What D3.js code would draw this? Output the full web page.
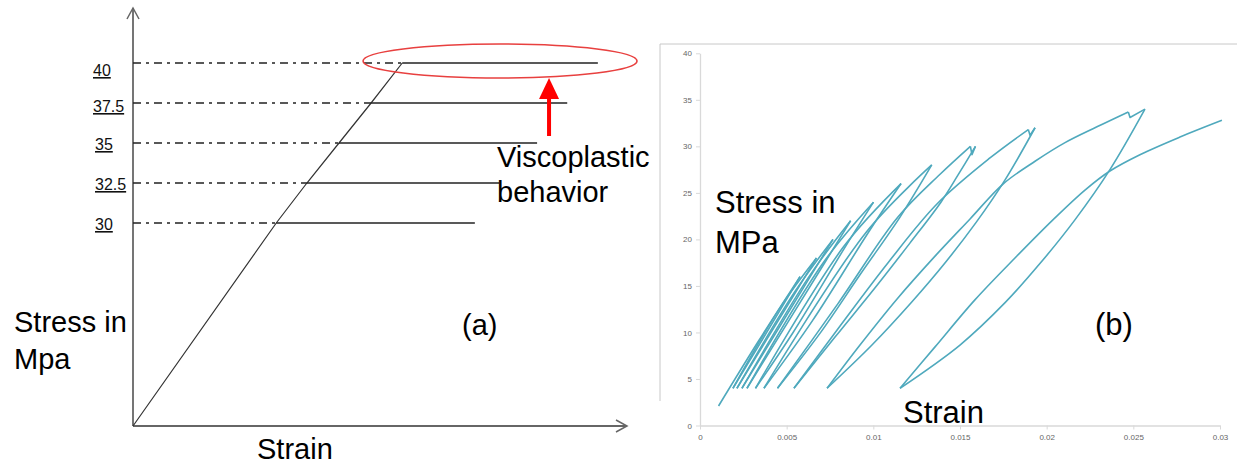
<!DOCTYPE html>
<html><head><meta charset="utf-8">
<script src="https://cdn.jsdelivr.net/npm/d3@7"></script>
<style>
body{margin:0;background:#fff;}
svg{display:block;font-family:"Liberation Sans",Arial,sans-serif;}
</style>
</head><body>
<svg id="c" width="1237" height="465"></svg>
<script>
// ---------- Panel (a): schematic creep test ----------
const stressLevels = [30, 32.5, 35, 37.5, 40];
const levelLabels = ["30", "32.5", "35", "37.5", "40"];
const onsetStrain = [0.290, 0.352, 0.417, 0.482, 0.545];   // schematic strain where plateau starts
const endStrain   = [0.692, 0.741, 0.818, 0.879, 0.941];   // schematic strain where plateau ends

// ---------- Panel (b): cyclic loading test ----------
const xTicksB = [0, 0.005, 0.01, 0.015, 0.02, 0.025, 0.03];
const xTickLabelsB = ["0", "0.005", "0.01", "0.015", "0.02", "0.025", "0.03"];
const yTicksB = [0, 5, 10, 15, 20, 25, 30, 35, 40];

// branches of the single recorded curve, in order: [strain, stress MPa]
const load1   = [[0.00107,2.1],[0.00335,9.0],[0.00577,16]];
const unload1 = [[0.00577,16],[0.00475,12.8],[0.0019,4]];
const load2   = [[0.0019,4],[0.00467,12.8],[0.00672,18]];
const unload2 = [[0.00672,18],[0.00554,14.4],[0.00213,4]];
const load3   = [[0.00213,4],[0.00548,14.4],[0.00767,20]];
const unload3 = [[0.00767,20],[0.00636,16],[0.00242,4]];
const load4   = [[0.00242,4],[0.00629,16],[0.00869,22]];
const unload4 = [[0.00869,22],[0.00723,17.6],[0.00271,4]];
const load5   = [[0.00271,4],[0.00715,17.6],[0.01001,24]];
const unload5 = [[0.01001,24],[0.00838,19.2],[0.00537,10],[0.0032,4]];
const load6   = [[0.0032,4],[0.00828,19.2],[0.0116,26]];
const unload6 = [[0.0116,26],[0.00973,20.8],[0.0065,11.3],[0.00369,4]];
const load7   = [[0.00369,4],[0.0096,20.8],[0.01337,28]];
const unload7 = [[0.01337,28],[0.01154,22.4],[0.00923,16.2],[0.00692,9.9],[0.00447,4]];
const load8   = [[0.00447,4],[0.00796,13.1],[0.01142,22.4],[0.01385,27.0],[0.0156,30]];
const hold8   = [[0.0156,30],[0.01569,29.1],[0.01589,30]];
const unload8 = [[0.01589,30],[0.01488,26.9],[0.0139,24.0],[0.01211,19.6],[0.0101,14.8],[0.00779,9.5],[0.00542,4]];
const load9   = [[0.00542,4],[0.00808,10.7],[0.01085,17.5],[0.01367,23.8],[0.01673,28.75],[0.01894,31.8]];
const hold9   = [[0.01894,31.8],[0.01904,31.2],[0.01933,32]];
const unload9 = [[0.01933,32],[0.0176,26.4],[0.01592,21.8],[0.01419,17.6],[0.01223,13.3],[0.00992,8.65],[0.00733,4]];
const load10  = [[0.00733,4],[0.00923,8.65],[0.01137,13.6],[0.01356,18.2],[0.01558,22.2],[0.01748,25.95],[0.01933,28.4],[0.02106,30.4],[0.0229,32.1],[0.02471,33.7]];
const hold10  = [[0.02471,33.7],[0.02481,33.1],[0.02567,34]];
const unload10= [[0.02567,34],[0.02365,27.5],[0.02163,22.1],[0.01961,17.4],[0.0176,13.2],[0.015,8.65],[0.01154,4]];
const load11  = [[0.01154,4],[0.01356,8.45],[0.01586,13.5],[0.01817,18.0],[0.02036,22.1],[0.02221,25.3],[0.02365,27.35],[0.02538,29.1],[0.02769,31.0],[0.03011,32.8]];

const smoothBranches = [load1,unload1,load2,unload2,load3,unload3,load4,unload4,load5,unload5,
  load6,unload6,load7,unload7,load8,unload8,load9,unload9,load10,unload10,load11];
const holdBranches = [hold8, hold9, hold10];

const svg = d3.select("#c");

// ================= Panel (a) =================
const xA = d3.scaleLinear().domain([0, 1]).range([133, 627]);
const yA = d3.scaleLinear().domain([0, 30, 40]).range([426, 223, 63]);
const gA = svg.append("g");

// axes with arrows
gA.append("line").attr("x1", xA(0)).attr("y1", yA(0)).attr("x2", xA(0)).attr("y2", 8)
  .attr("stroke", "#666").attr("stroke-width", 1.8);
gA.append("polyline").attr("points", `${xA(0)-6},19 ${xA(0)},8 ${xA(0)+6},19`)
  .attr("fill", "none").attr("stroke", "#666").attr("stroke-width", 1.5);
gA.append("line").attr("x1", xA(0)).attr("y1", yA(0)).attr("x2", xA(1)).attr("y2", yA(0))
  .attr("stroke", "#666").attr("stroke-width", 1.8);
gA.append("polyline").attr("points", `${xA(1)-11},${yA(0)-6} ${xA(1)},${yA(0)} ${xA(1)-11},${yA(0)+6}`)
  .attr("fill", "none").attr("stroke", "#666").attr("stroke-width", 1.5);

// elastic line
const elastic = [[0, 0]].concat(stressLevels.map((s, i) => [onsetStrain[i], s]));
gA.append("path").datum(elastic)
  .attr("d", d3.line().x(d => xA(d[0])).y(d => yA(d[1])))
  .attr("fill", "none").attr("stroke", "#333").attr("stroke-width", 1.2);

const topIdx = stressLevels.length - 1;
// dash-dot guides and plateaus
stressLevels.forEach((s, i) => {
  gA.append("line").attr("x1", xA(0)).attr("x2", xA(onsetStrain[i]))
    .attr("y1", yA(s)).attr("y2", yA(s))
    .attr("stroke", "#222").attr("stroke-width", 1.5).attr("stroke-dasharray", "8,5,3,5");
  gA.append("line").attr("x1", xA(onsetStrain[i])).attr("x2", xA(endStrain[i]))
    .attr("y1", yA(s)).attr("y2", yA(s))
    .attr("stroke", "#222").attr("stroke-width", 1.6);
  gA.append("text").attr("x", i >= 3 ? 93 : 95).attr("y", yA(s) + (i === topIdx ? 13 : (i === 3 ? 9 : 7)))
    .attr("font-size", 16).attr("text-decoration", "underline").attr("fill", "#111")
    .text(levelLabels[i]);
});

// red ellipse + arrow around the 40 MPa plateau
const ecx = (xA(onsetStrain[topIdx]) + xA(endStrain[topIdx])) / 2;
gA.append("ellipse").attr("cx", ecx).attr("cy", yA(40) - 2).attr("rx", 137).attr("ry", 17)
  .attr("fill", "none").attr("stroke", "#e8403f").attr("stroke-width", 1.6);
const ax = ecx + 49;
gA.append("rect").attr("x", ax - 2).attr("y", 96).attr("width", 4).attr("height", 40).attr("fill", "#f00");
gA.append("polygon").attr("points", `${ax},${yA(40)+15} ${ax-10},99 ${ax+10},99`).attr("fill", "#f00");

const tA = (x, y, s) => gA.append("text").attr("x", x).attr("y", y).attr("font-size", 29).attr("fill", "#000").text(s);
tA(497, 167, "Viscoplastic");
tA(497, 202, "behavior");
tA(14, 332, "Stress in");
tA(14, 369, "Mpa");
tA(462, 335, "(a)");
tA(257, 459, "Strain");

// ================= Panel (b) =================
const xB = d3.scaleLinear().domain([0, 0.03]).range([700, 1220]);
const yB = d3.scaleLinear().domain([0, 40]).range([425.5, 53.3]);
const gB = svg.append("g");

// frame edges of the pasted chart
gB.append("line").attr("x1", 660).attr("x2", 1237).attr("y1", 44).attr("y2", 44).attr("stroke", "#c8c8c8");
gB.append("line").attr("x1", 660).attr("x2", 660).attr("y1", 44).attr("y2", 401).attr("stroke", "#c8c8c8");

const yAxisB = gB.append("g").attr("transform", `translate(${xB(0)},0)`)
  .call(d3.axisLeft(yB).tickValues(yTicksB).tickSize(4).tickPadding(4).tickSizeOuter(0));
const xAxisB = gB.append("g").attr("transform", `translate(0,${yB(0)})`)
  .call(d3.axisBottom(xB).tickValues(xTicksB).tickSize(4).tickPadding(5).tickSizeOuter(0)
    .tickFormat((d, i) => xTickLabelsB[i]));
[yAxisB, xAxisB].forEach(a => {
  a.select(".domain").attr("stroke", "#d9d9d9").attr("stroke-width", 1.3);
  a.selectAll(".tick line").attr("stroke", "#d9d9d9");
  a.selectAll(".tick text").attr("fill", "#666").attr("font-size", 8)
    .attr("font-family", "Liberation Sans, Arial, sans-serif");
});

const lineB = d3.line().x(d => xB(d[0])).y(d => yB(d[1]));
const smooth = d3.line().x(d => xB(d[0])).y(d => yB(d[1])).curve(d3.curveCatmullRom.alpha(0.5));
const curveColor = "#4fa9bd";
gB.selectAll("path.br").data(smoothBranches).join("path").attr("class", "br")
  .attr("d", smooth).attr("fill", "none").attr("stroke", curveColor)
  .attr("stroke-width", 1.6).attr("stroke-linejoin", "round");
gB.selectAll("path.hd").data(holdBranches).join("path").attr("class", "hd")
  .attr("d", lineB).attr("fill", "none").attr("stroke", curveColor)
  .attr("stroke-width", 1.6).attr("stroke-linejoin", "round");

const tB = (x, y, s) => gB.append("text").attr("x", x).attr("y", y).attr("font-size", 31).attr("fill", "#000").text(s);
tB(715, 213, "Stress in");
tB(715, 253, "MPa");
tB(1095, 335, "(b)");
tB(903, 423, "Strain");
</script>
</body></html>
